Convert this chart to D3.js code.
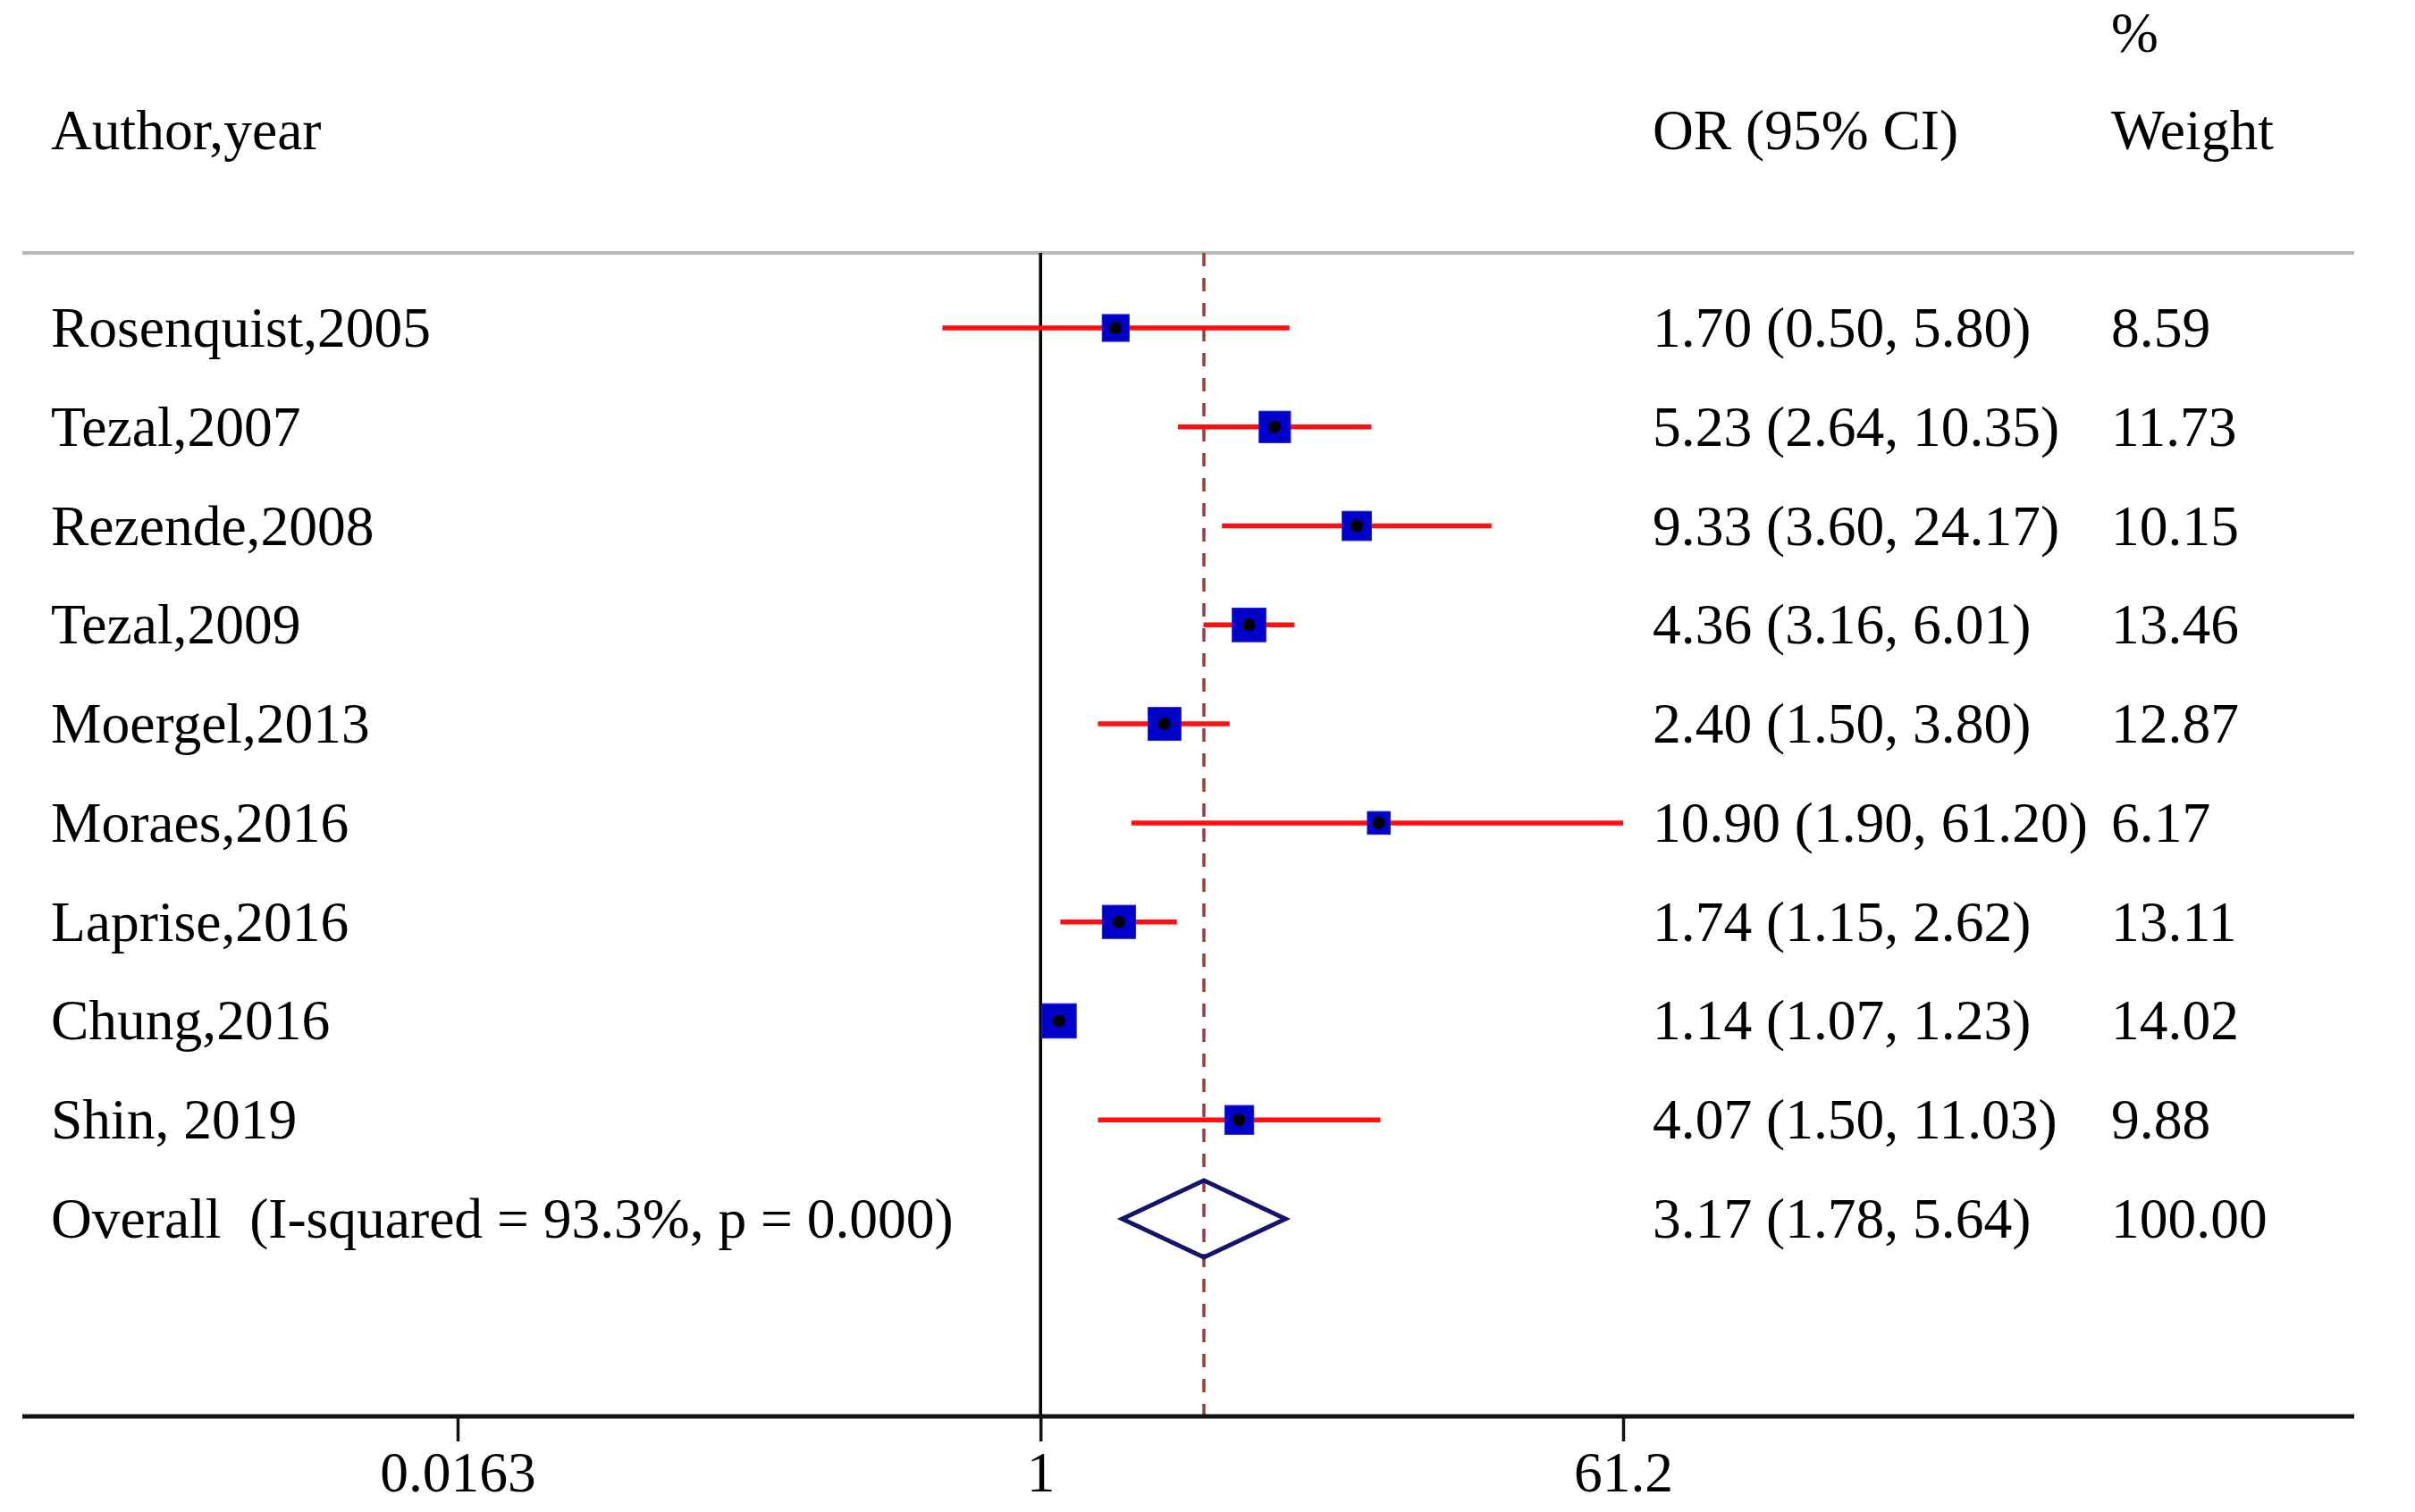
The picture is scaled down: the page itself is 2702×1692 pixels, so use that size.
<!DOCTYPE html>
<html>
<head>
<meta charset="utf-8">
<script src="https://cdn.jsdelivr.net/npm/d3@7"></script>
<style>
  html, body { margin: 0; padding: 0; background: #fff; }
  text { font-family: "Liberation Serif", "Times New Roman", serif; fill: #000; white-space: pre; }
</style>
</head>
<body>
<svg id="chart" width="2702" height="1692"></svg>
<script>
// ---- data ----
const authors = ["Rosenquist,2005","Tezal,2007","Rezende,2008","Tezal,2009","Moergel,2013","Moraes,2016","Laprise,2016","Chung,2016","Shin, 2019"];
const orValues = [1.70, 5.23, 9.33, 4.36, 2.40, 10.90, 1.74, 1.14, 4.07];
const ciLower  = [0.50, 2.64, 3.60, 3.16, 1.50, 1.90, 1.15, 1.07, 1.50];
const ciUpper  = [5.80, 10.35, 24.17, 6.01, 3.80, 61.20, 2.62, 1.23, 11.03];
const weights  = [8.59, 11.73, 10.15, 13.46, 12.87, 6.17, 13.11, 14.02, 9.88];
const overallLabel = "Overall  (I-squared = 93.3%, p = 0.000)";
const overallOR = 3.17, overallLower = 1.78, overallUpper = 5.64, overallWeight = 100.00;
const tickValues = [0.0163, 1, 61.2];
const tickLabels = ["0.0163", "1", "61.2"];
const headers = { author: "Author,year", or: "OR (95% CI)", pct: "%", weight: "Weight" };

// ---- layout ----
const W = 2702, H = 1692;
const FS = 63.5;
const colAuthor = 57, colOR = 1849, colWeight = 2362;
const lineLeft = 25, lineRight = 2634;
const headerLineY = 283, axisY = 1585;

const svg = d3.select("#chart");

const x = d3.scaleLog().domain([0.0163, 61.2]).range([512, 1816]);
const y = d3.scaleLinear().domain([0, authors.length]).range([367, 1364]);
const side = d3.scaleSqrt().domain([0, d3.max(weights)]).range([0, 38.5]);

const fmt = v => v.toFixed(2);

// headers
svg.append("text").attr("x", colAuthor).attr("y", 167).attr("font-size", FS).text(headers.author);
svg.append("text").attr("x", colOR).attr("y", 167).attr("font-size", FS).text(headers.or);
svg.append("text").attr("x", colWeight).attr("y", 58).attr("font-size", FS).text(headers.pct);
svg.append("text").attr("x", colWeight).attr("y", 167).attr("font-size", FS).text(headers.weight);

// header separator line
svg.append("line")
  .attr("x1", lineLeft).attr("x2", lineRight)
  .attr("y1", headerLineY).attr("y2", headerLineY)
  .attr("stroke", "#b8b8b8").attr("stroke-width", 4);

// null line
svg.append("line")
  .attr("x1", x(1)).attr("x2", x(1))
  .attr("y1", headerLineY).attr("y2", axisY)
  .attr("stroke", "#000").attr("stroke-width", 3.5);

// overall effect dashed line
svg.append("line")
  .attr("x1", x(overallOR)).attr("x2", x(overallOR))
  .attr("y1", headerLineY).attr("y2", axisY)
  .attr("stroke", "#9e3b3b").attr("stroke-width", 3.5)
  .attr("stroke-dasharray", "15,13");

// study rows
const rows = authors.map((a, i) => ({
  author: a, or: orValues[i], lo: ciLower[i], hi: ciUpper[i], w: weights[i], i
}));

const g = svg.append("g");
g.selectAll("line.ci").data(rows).join("line")
  .attr("class", "ci")
  .attr("x1", d => x(d.lo)).attr("x2", d => x(d.hi))
  .attr("y1", d => y(d.i)).attr("y2", d => y(d.i))
  .attr("stroke", "#ff1010").attr("stroke-width", 5.5);

g.selectAll("rect.box").data(rows).join("rect")
  .attr("class", "box")
  .attr("x", d => x(d.or) - side(d.w) / 2)
  .attr("y", d => y(d.i) - side(d.w) / 2)
  .attr("width", d => side(d.w)).attr("height", d => side(d.w))
  .attr("fill", "#0000c8").attr("stroke", "#2020e0").attr("stroke-width", 1);

g.selectAll("circle.pt").data(rows).join("circle")
  .attr("class", "pt")
  .attr("cx", d => x(d.or)).attr("cy", d => y(d.i))
  .attr("r", 7).attr("fill", "#000");

// text columns for studies
g.selectAll("text.author").data(rows).join("text")
  .attr("class", "author")
  .attr("x", colAuthor).attr("y", d => y(d.i) + 21)
  .attr("font-size", FS).text(d => d.author);

g.selectAll("text.orci").data(rows).join("text")
  .attr("class", "orci")
  .attr("x", colOR).attr("y", d => y(d.i) + 21)
  .attr("font-size", FS).text(d => `${fmt(d.or)} (${fmt(d.lo)}, ${fmt(d.hi)})`);

g.selectAll("text.wt").data(rows).join("text")
  .attr("class", "wt")
  .attr("x", colWeight).attr("y", d => y(d.i) + 21)
  .attr("font-size", FS).text(d => fmt(d.w));

// overall row
const oy = y(authors.length);
const dh = 43;
svg.append("path")
  .attr("d", d3.line()([
    [x(overallLower), oy], [x(overallOR), oy - dh],
    [x(overallUpper), oy], [x(overallOR), oy + dh]
  ]) + "Z")
  .attr("fill", "none").attr("stroke", "#14146e").attr("stroke-width", 5)
  .attr("stroke-linejoin", "miter");

svg.append("text").attr("x", colAuthor).attr("y", oy + 21).attr("font-size", FS).text(overallLabel);
svg.append("text").attr("x", colOR).attr("y", oy + 21).attr("font-size", FS)
  .text(`${fmt(overallOR)} (${fmt(overallLower)}, ${fmt(overallUpper)})`);
svg.append("text").attr("x", colWeight).attr("y", oy + 21).attr("font-size", FS).text(fmt(overallWeight));

// axis
svg.append("line")
  .attr("x1", lineLeft).attr("x2", lineRight)
  .attr("y1", axisY).attr("y2", axisY)
  .attr("stroke", "#111").attr("stroke-width", 5);

const axis = d3.axisBottom(x)
  .tickValues(tickValues)
  .tickFormat((d, i) => tickLabels[i])
  .tickSize(28)
  .tickSizeOuter(0);

const ag = svg.append("g").attr("transform", `translate(0,${axisY})`).call(axis);
ag.select(".domain").remove();
ag.selectAll(".tick line").attr("stroke", "#111").attr("stroke-width", 3.5);
ag.selectAll(".tick text")
  .attr("y", 84).attr("dy", null)
  .attr("font-size", FS)
  .attr("font-family", "Liberation Serif, Times New Roman, serif")
  .attr("fill", "#000");
</script>
</body>
</html>
